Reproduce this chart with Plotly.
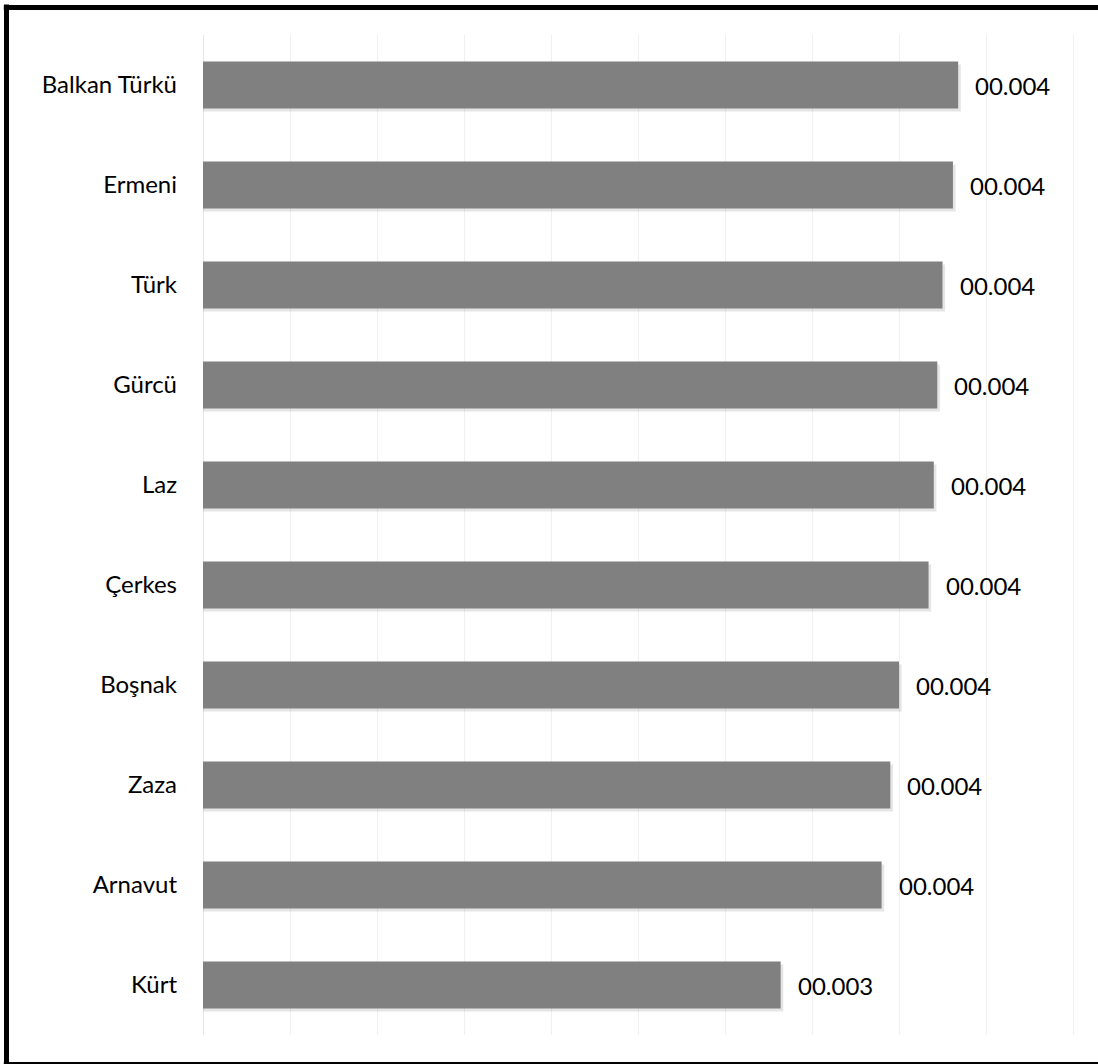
import plotly.graph_objects as go

categories = ["Kürt", "Arnavut", "Zaza", "Boşnak", "Çerkes", "Laz", "Gürcü", "Türk", "Ermeni", "Balkan Türkü"]
values = [0.00332, 0.00390, 0.00395, 0.00400, 0.00417, 0.00420, 0.00422, 0.00425, 0.00431, 0.00434]
labels = ["00.003", "00.004", "00.004", "00.004", "00.004", "00.004", "00.004", "00.004", "00.004", "00.004"]

W, H = 1098, 1064
ML, MR, MT, MB = 203, 0, 35, 29
bw = 0.47
FONT = "Lato, Carlito, Calibri, sans-serif"
FS = 24

fig = go.Figure()
# soft drop shadow
fig.add_trace(go.Bar(
    y=categories, x=[v + 0.000015 for v in values], orientation="h",
    width=bw, offset=-bw / 2 - 0.03,
    marker=dict(color="rgba(0,0,0,0.10)", line=dict(width=0)),
    hoverinfo="skip", showlegend=False,
))
fig.add_trace(go.Bar(
    y=categories, x=values, orientation="h",
    width=bw, offset=-bw / 2,
    marker=dict(color="#808080", line=dict(width=0)),
    showlegend=False,
))

for c, v, t in zip(categories, values, labels):
    fig.add_annotation(x=v, y=c, text=t, xanchor="left", yanchor="middle",
                       xshift=15, showarrow=False,
                       font=dict(family=FONT, size=FS, color="#000000"))

pw = W - ML - MR
ph = H - MT - MB
# frame around the chart: left, top and bottom edges (right edge is off-page in the reference)
xl = (6.5 - ML) / pw
xr = (W - ML) / pw
yt = (H - MB - 7.5) / ph
yb = (H - MB - 1064.5) / ph
frame = dict(color="#000000", width=5)
fig.add_shape(type="line", xref="paper", yref="paper", x0=xl, x1=xl, y0=yb - 0.003, y1=yt + 0.003, line=frame, layer="above")
fig.add_shape(type="line", xref="paper", yref="paper", x0=xl - 0.003, x1=xr, y0=yt, y1=yt, line=frame, layer="above")
fig.add_shape(type="line", xref="paper", yref="paper", x0=xl - 0.003, x1=xr, y0=yb, y1=yb, line=frame, layer="above")

fig.update_layout(
    width=W, height=H,
    margin=dict(l=ML, r=MR, t=MT, b=MB),
    paper_bgcolor="white", plot_bgcolor="white",
    barmode="overlay",
    font=dict(family=FONT, size=FS, color="#000000"),
    xaxis=dict(range=[0, 0.0005 * pw / 87], dtick=0.0005, tick0=0,
               showgrid=True, gridcolor="#f0f0f0", gridwidth=1,
               zeroline=True, zerolinecolor="#e6e6e6", zerolinewidth=1,
               showticklabels=False, showline=False, fixedrange=True),
    yaxis=dict(categoryorder="array", categoryarray=categories,
               showgrid=False, zeroline=False, showline=False,
               ticks="", ticklabelstandoff=25, fixedrange=True,
               tickfont=dict(family=FONT, size=FS, color="#000000")),
)

fig.write_html("out.html", config={"displayModeBar": False},
               post_script="document.body.style.margin='0';document.body.style.overflow='hidden';")
